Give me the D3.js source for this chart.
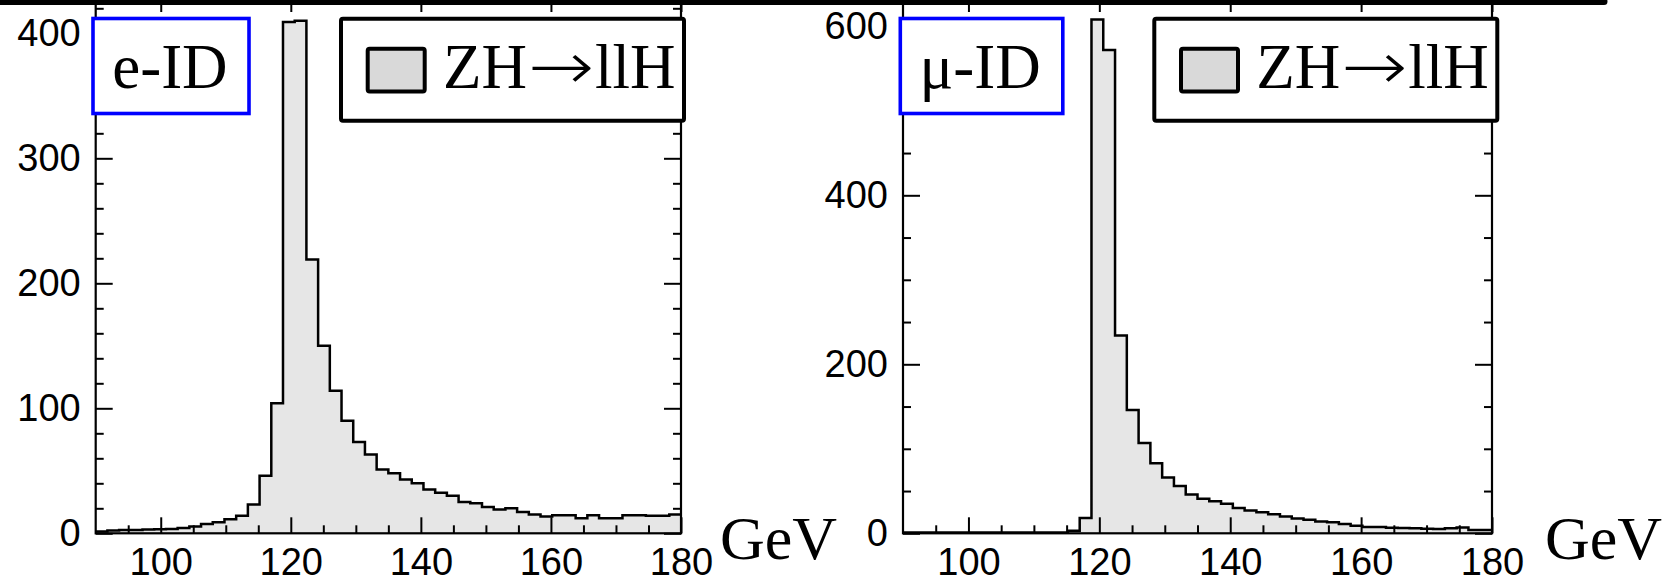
<!DOCTYPE html>
<html>
<head>
<meta charset="utf-8">
<script src="https://cdn.jsdelivr.net/npm/d3@7"></script>
<style>
  body { margin: 0; background: #fff; }
  svg { display: block; }
  .tick text { font-family: "Liberation Sans", Arial, sans-serif; font-size: 38px; fill: #000; }
  .tick line { stroke: #000; stroke-width: 2px; }
  .serif { font-family: "Liberation Serif", "Times New Roman", serif; fill: #000; }
</style>
</head>
<body>
<svg id="chart"></svg>
<script>
"use strict";

var width = 1672
  , height = 582;

// 50 bins of 1.8 GeV between 90 and 180 GeV
var xMin = 90
  , xMax = 180
  , nBins = 50;

// entries per bin
var eCounts = [
  1.5, 2.3, 2.6, 2.7, 3, 3.2, 3.5, 4.3, 5.4, 7.5,
  8.8, 11.2, 14, 23, 46, 104, 409, 410, 219, 150,
  114, 90, 73, 63, 51, 48, 43, 40, 35, 32.5,
  30, 25, 24, 21, 19, 20, 17, 15, 13.5, 14.5,
  14.5, 12, 14.5, 12, 12, 14.5, 14.5, 14, 14, 15
];

var muCounts = [
  1, 1, 1, 1, 1, 1, 1, 1, 1, 1,
  1, 1, 1, 1, 3, 18, 608, 572, 234, 146,
  107, 83, 66, 56, 46, 41, 38, 35, 30, 27,
  25, 22.5, 20, 17.5, 16, 14, 13, 11, 9, 7.5,
  7.5, 6.7, 6.3, 6, 5.5, 5, 6, 7, 4, 4
];

var xTicks = [100, 120, 140, 160, 180];
var xMinorTicks = [95, 105, 110, 115, 125, 130, 135, 145, 150, 155, 165, 170, 175];

var eYTicks = [0, 100, 200, 300, 400];
var muYTicks = [0, 200, 400, 600];

var panelLabels = ["e-ID", "\u03bc-ID"];
var legendParts = ["ZH", "\u2192", "llH"];
var unitLabel = "GeV";

var plotTop = -4
  , plotBottom = 533.3;

var panels = [
  { counts: eCounts, yTicks: eYTicks, minorStep: 20, yMax: 400, yTopPx: 33.3,
    left: 95.7, right: 681, label: panelLabels[0], labelBoxW: 156, legendX: 341, unitX: 720 },
  { counts: muCounts, yTicks: muYTicks, minorStep: 50, yMax: 600, yTopPx: 26.3,
    left: 903, right: 1492, label: panelLabels[1], labelBoxW: 162.5, legendX: 1154.3, unitX: 1545 }
];

var svg = d3.select("#chart")
  .attr("width", width)
  .attr("height", height);

panels.forEach(drawPanel);

// heavy rule along the top edge of the figure
svg.append("line")
  .attr("x1", -5)
  .attr("x2", 1604)
  .attr("y1", 1.5)
  .attr("y2", 1.5)
  .attr("stroke", "#000")
  .attr("stroke-width", 7)
  .attr("stroke-linecap", "round");

function drawPanel(p) {
  var x = d3.scaleLinear().domain([xMin, xMax]).range([p.left, p.right]);
  var y = d3.scaleLinear().domain([0, p.yMax]).range([plotBottom, p.yTopPx]);

  var binWidth = (xMax - xMin) / nBins;
  var pts = p.counts.map(function (c, i) { return [xMin + i * binWidth, c]; });
  pts.push([xMax, p.counts[p.counts.length - 1]]);

  var g = svg.append("g");

  // histogram
  var area = d3.area()
    .curve(d3.curveStepAfter)
    .x(function (d) { return x(d[0]); })
    .y0(y(0))
    .y1(function (d) { return y(d[1]); });

  var line = d3.line()
    .curve(d3.curveStepAfter)
    .x(function (d) { return x(d[0]); })
    .y(function (d) { return y(d[1]); });

  g.append("path")
    .attr("d", area(pts))
    .attr("fill", "#e6e6e6");

  g.append("path")
    .attr("d", line(pts))
    .attr("fill", "none")
    .attr("stroke", "#000")
    .attr("stroke-width", 2.5);

  // minor ticks
  var yTopVal = y.invert(plotTop);
  var yMinor = d3.range(0, yTopVal, p.minorStep).filter(function (v) {
    return p.yTicks.indexOf(v) < 0;
  });

  g.append("g")
    .attr("transform", "translate(0," + plotBottom + ")")
    .call(d3.axisBottom(x).tickValues(xMinorTicks).tickSizeInner(-8).tickSizeOuter(0).tickFormat(""))
    .call(function (s) { s.select(".domain").remove(); });

  g.append("g")
    .attr("transform", "translate(0," + plotTop + ")")
    .call(d3.axisTop(x).tickValues(xMinorTicks).tickSizeInner(-8).tickSizeOuter(0).tickFormat(""))
    .call(function (s) { s.select(".domain").remove(); });

  g.append("g")
    .attr("transform", "translate(" + p.left + ",0)")
    .call(d3.axisLeft(y).tickValues(yMinor).tickSizeInner(-8).tickSizeOuter(0).tickFormat(""))
    .call(function (s) { s.select(".domain").remove(); });

  g.append("g")
    .attr("transform", "translate(" + p.right + ",0)")
    .call(d3.axisRight(y).tickValues(yMinor).tickSizeInner(-8).tickSizeOuter(0).tickFormat(""))
    .call(function (s) { s.select(".domain").remove(); });

  // major ticks and labels
  g.append("g")
    .attr("transform", "translate(0," + plotBottom + ")")
    .call(d3.axisBottom(x).tickValues(xTicks).tickSizeInner(-16).tickSizeOuter(0).tickPadding(15))
    .call(function (s) { s.select(".domain").remove(); });

  g.append("g")
    .attr("transform", "translate(0," + plotTop + ")")
    .call(d3.axisTop(x).tickValues(xTicks).tickSizeInner(-16).tickSizeOuter(0).tickFormat(""))
    .call(function (s) { s.select(".domain").remove(); });

  g.append("g")
    .attr("transform", "translate(" + p.left + ",0)")
    .call(d3.axisLeft(y).tickValues(p.yTicks).tickSizeInner(-17).tickSizeOuter(0).tickPadding(15))
    .call(function (s) { s.select(".domain").remove(); });

  g.append("g")
    .attr("transform", "translate(" + p.right + ",0)")
    .call(d3.axisRight(y).tickValues(p.yTicks).tickSizeInner(-17).tickSizeOuter(0).tickFormat(""))
    .call(function (s) { s.select(".domain").remove(); });

  // frame
  g.append("rect")
    .attr("x", p.left)
    .attr("y", plotTop)
    .attr("width", p.right - p.left)
    .attr("height", plotBottom - plotTop)
    .attr("fill", "none")
    .attr("stroke", "#000")
    .attr("stroke-width", 2.2);

  // selection label box
  g.append("rect")
    .attr("x", p.left - 2.7)
    .attr("y", 18.5)
    .attr("width", p.labelBoxW)
    .attr("height", 95)
    .attr("fill", "#fff")
    .attr("stroke", "#0000ff")
    .attr("stroke-width", 3.6);

  g.append("text")
    .attr("class", "serif")
    .attr("x", p.left + 16.5)
    .attr("y", 88)
    .style("font-size", "63px")
    .text(p.label);

  // legend
  g.append("rect")
    .attr("x", p.legendX)
    .attr("y", 18.7)
    .attr("width", 343)
    .attr("height", 102)
    .attr("rx", 2)
    .attr("fill", "#fff")
    .attr("stroke", "#000")
    .attr("stroke-width", 4);

  g.append("rect")
    .attr("x", p.legendX + 26.7)
    .attr("y", 48.7)
    .attr("width", 57)
    .attr("height", 42.7)
    .attr("rx", 2)
    .attr("fill", "#d9d9d9")
    .attr("stroke", "#000")
    .attr("stroke-width", 4);

  g.append("text")
    .attr("class", "serif")
    .attr("x", p.legendX + 102)
    .attr("y", 88)
    .style("font-size", "63px")
    .text(legendParts[0]);

  // long thin arrow, stretched sideways
  g.append("text")
    .attr("transform", "translate(" + (p.legendX + 187) + ",89) scale(1.2,1)")
    .style("font-family", "'DejaVu Sans', sans-serif")
    .style("font-weight", 200)
    .style("font-size", "66px")
    .text(legendParts[1]);

  g.append("text")
    .attr("class", "serif")
    .attr("x", p.legendX + 254)
    .attr("y", 88)
    .style("font-size", "63px")
    .text(legendParts[2]);

  // axis unit
  g.append("text")
    .attr("class", "serif")
    .attr("x", p.unitX)
    .attr("y", 559.3)
    .style("font-size", "62px")
    .text(unitLabel);
}
</script>
</body>
</html>
